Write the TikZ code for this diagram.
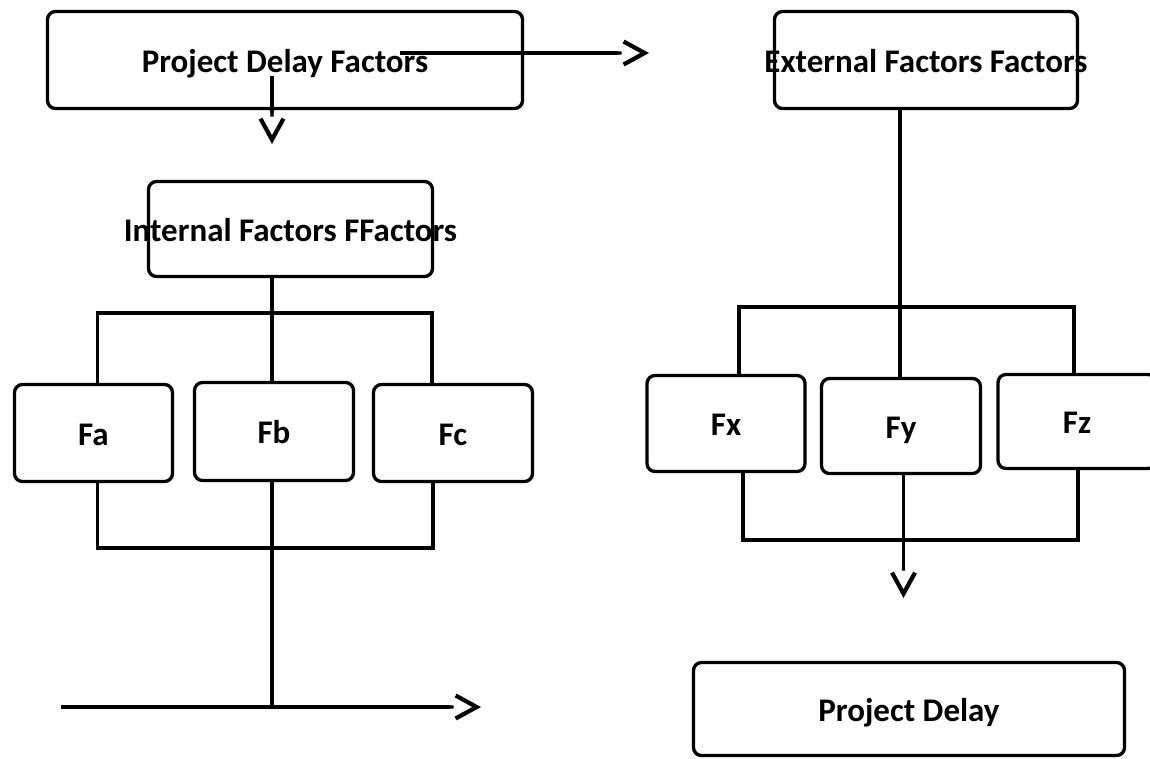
\documentclass[tikz,border=0pt]{standalone}
\usepackage{fontspec}
\setmainfont{Carlito}
\usetikzlibrary{arrows.meta}
\begin{document}
\begin{tikzpicture}[x=1pt,y=-1pt,
  box/.style={draw=black, line width=3.3pt, rounded corners=8pt, inner xsep=-40pt, inner ysep=0pt,
    font=\fontsize{33}{40}\selectfont\bfseries, text height=24.5pt, text depth=0pt},
  conn/.style={line width=3.2pt},
  arr/.style={line width=3.2pt, -{Butt Cap[sep=0pt] . Straight Barb[length=21pt,width=23pt,line width=4.2pt,sep=0pt]}}]
\useasboundingbox[fill=white] (0,0) rectangle (1150,758);
% boxes
\node[box, minimum width=475pt, minimum height=97pt] (pdf) at (285,60) {Project Delay Factors};
\node[box, minimum width=284pt, minimum height=95pt] (intf) at (290.5,229) {Internal Factors FFactors};
\node[box, minimum width=303pt, minimum height=97pt] (ext) at (926,60) {External Factors Factors};
\node[box, minimum width=158pt, minimum height=97pt] (fa) at (93.5,433) {Fa};
\node[box, minimum width=159pt, minimum height=98pt] (fb) at (274,431.5) {Fb};
\node[box, minimum width=159pt, minimum height=97pt] (fc) at (453,433) {Fc};
\node[box, minimum width=158pt, minimum height=96pt] (fx) at (726,423.5) {Fx};
\node[box, minimum width=159pt, minimum height=95pt] (fy) at (901,426) {Fy};
\node[box, minimum width=158pt, minimum height=94pt] (fz) at (1077,421.5) {Fz};
\node[box, minimum width=431pt, minimum height=93pt] (pd) at (909,709) {Project Delay};
% top arrows
\coordinate (da1) at (272,76);
\coordinate (da2) at (272,144);
\draw[arr] (da1) -- (da2);
\coordinate (ra1) at (400,53);
\coordinate (ra2) at (649,53);
\draw[arr] (ra1) -- (ra2);
% left tree
\coordinate (lt) at (272,313);
\coordinate (ltl) at (97.5,313);
\coordinate (ltr) at (432,313);
\draw[conn] (lt |- intf.south) -- (lt |- fb.north);
\draw[conn] (ltl |- fa.north) -- (ltl) -- (ltr) -- (ltr |- fc.north);
\coordinate (lbl) at (97.5,548);
\coordinate (lbr) at (433,548);
\draw[conn] (lbl |- fa.south) -- (lbl) -- (lbr) -- (lbr |- fc.south);
\coordinate (lbm) at (272,707);
\draw[conn] (lbm |- fb.south) -- (lbm);
\coordinate (hs) at (61,707);
\coordinate (he) at (481,707);
\draw[arr] (hs) -- (he);
% right tree
\coordinate (rt) at (900,307);
\coordinate (rtl) at (739,307);
\coordinate (rtr) at (1074,307);
\draw[conn] (rt |- ext.south) -- (rt |- fy.north);
\draw[conn] (rtl |- fx.north) -- (rtl) -- (rtr) -- (rtr |- fz.north);
\coordinate (rbl) at (743,540);
\coordinate (rbr) at (1078,540);
\draw[conn] (rbl |- fx.south) -- (rbl) -- (rbr) -- (rbr |- fz.south);
\coordinate (rd) at (903.5,598);
\draw[arr] (rd |- fy.south) -- (rd);
\end{tikzpicture}
\end{document}
